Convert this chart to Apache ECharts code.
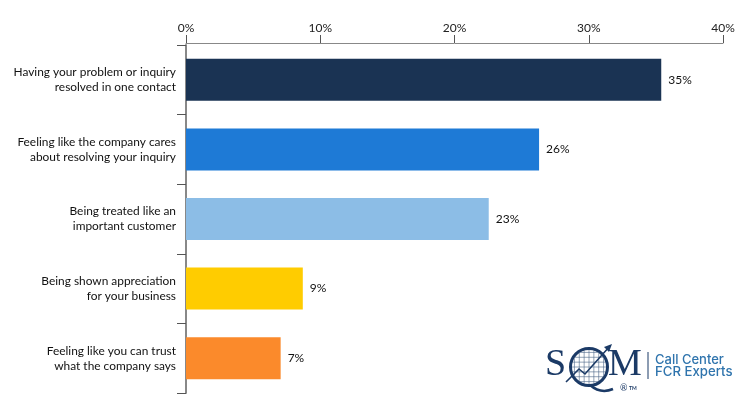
<!DOCTYPE html>
<html>
<head>
<meta charset="utf-8">
<style>
  html, body { margin: 0; padding: 0; background: #fff; }
  #chart { width: 750px; height: 413px; }
</style>
</head>
<body>
<div id="chart"></div>
<script src="https://cdn.jsdelivr.net/npm/echarts@6/dist/echarts.min.js"></script>
<script>
var categories = [
  'Having your problem or inquiry\nresolved in one contact',
  'Feeling like the company cares\nabout resolving your inquiry',
  'Being treated like an\nimportant customer',
  'Being shown appreciation\nfor your business',
  'Feeling like you can trust\nwhat the company says'
];
var barValues = [35.4, 26.3, 22.55, 8.7, 7.05];
var barLabels = ['35%', '26%', '23%', '9%', '7%'];
var barColors = ['#1a3353', '#1e7ad6', '#8cbde6', '#ffcc00', '#fb8a2b'];
var axisTicks = [0, 10, 20, 30, 40];

var navy = '#1b3a66';
var blue = '#2f74ad';

// logo grid inside the Q
var qx = 589, qy = 367, qr = 17;
var logo = [];
for (var i = -3; i <= 3; i++) {
  var d = i * qr / 3.5;
  var h = Math.sqrt(qr * qr - d * d);
  logo.push({ type: 'line', shape: { x1: qx + d, y1: qy - h, x2: qx + d, y2: qy + h }, style: { stroke: '#4a6486', lineWidth: 0.6 } });
  logo.push({ type: 'line', shape: { x1: qx - h, y1: qy + d, x2: qx + h, y2: qy + d }, style: { stroke: '#4a6486', lineWidth: 0.6 } });
}
logo.push(
  { type: 'circle', shape: { cx: qx, cy: qy, r: 18.5 }, style: { fill: 'none', stroke: navy, lineWidth: 3 } },
  { type: 'polyline', shape: { points: [[566, 382], [579, 369], [585, 374], [610, 346]] }, style: { fill: 'none', stroke: navy, lineWidth: 1.6 } },
  { type: 'polygon', shape: { points: [[612, 344], [604, 347], [609, 352]] }, style: { fill: navy } },
  { type: 'bezierCurve', shape: { x1: 590, y1: 385, cpx1: 598, cpy1: 392, cpx2: 606, cpy2: 392, x2: 613, y2: 389 }, style: { fill: 'none', stroke: navy, lineWidth: 2.5 } },
  { type: 'text', style: { x: 545, y: 365, text: 'S', font: '38px "Liberation Serif"', fill: navy, verticalAlign: 'middle' } },
  { type: 'text', style: { x: 608, y: 365, text: 'M', font: '38px "Liberation Serif"', fill: navy, verticalAlign: 'middle' } },
  { type: 'text', style: { x: 620, y: 388, text: '®', font: '9px Lato', fill: navy, verticalAlign: 'middle' } },
  { type: 'text', style: { x: 629, y: 388, text: 'TM', font: 'bold 5px Lato', fill: navy, verticalAlign: 'middle' } },
  { type: 'line', shape: { x1: 648, y1: 352, x2: 648, y2: 379 }, style: { stroke: navy, lineWidth: 1 } },
  { type: 'text', style: { x: 655, y: 360, text: 'Call Center', font: '500 13px Inter', fill: blue, verticalAlign: 'middle' } },
  { type: 'text', style: { x: 655, y: 372, text: 'FCR Experts', font: '500 13.2px Inter', fill: blue, verticalAlign: 'middle' } }
);

var chart = echarts.init(document.getElementById('chart'));
chart.setOption({
  animation: false,
  textStyle: { fontFamily: 'Lato' },
  grid: { left: 186, right: 27, top: 45, bottom: 20 },
  xAxis: {
    type: 'value',
    position: 'top',
    offset: 2,
    min: 0,
    max: 40,
    interval: 10,
    axisLine: { show: true, lineStyle: { color: '#888', width: 1 } },
    axisTick: { show: true, length: 8, lineStyle: { color: '#555' } },
    splitLine: { show: false },
    axisLabel: {
      color: '#222',
      fontSize: 12,
      margin: 9,
      formatter: function (v) { return axisTicks.indexOf(v) > -1 ? v + '%' : ''; }
    }
  },
  yAxis: {
    type: 'category',
    inverse: true,
    data: categories,
    axisLine: { show: true, lineStyle: { color: '#888', width: 2 } },
    axisTick: { show: true, length: 9, lineStyle: { color: '#555' } },
    axisLabel: { color: '#111', fontSize: 11.9, lineHeight: 15, margin: 10, align: 'right' }
  },
  series: [{
    type: 'bar',
    barWidth: 42,
    data: barValues.map(function (v, i) {
      return { value: v, itemStyle: { color: barColors[i] } };
    }),
    label: {
      show: true,
      position: 'right',
      distance: 7,
      color: '#111',
      fontSize: 12,
      formatter: function (p) { return barLabels[p.dataIndex]; }
    }
  }],
  graphic: { elements: logo }
});
</script>
</body>
</html>
